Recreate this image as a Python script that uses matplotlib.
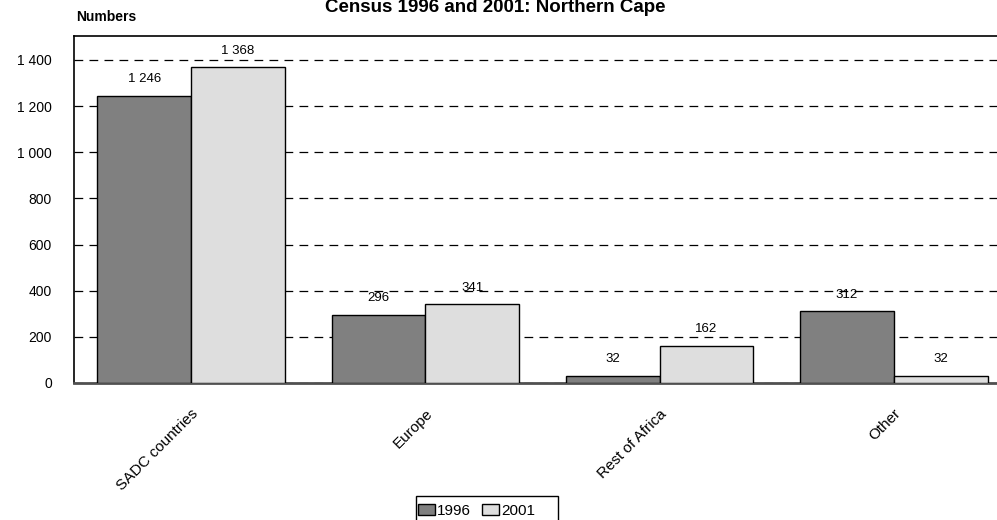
import matplotlib
matplotlib.use("Agg")
import matplotlib.pyplot as plt
from matplotlib.patches import Rectangle
import numpy as np

plt.rcParams['font.family'] = ['Liberation Sans Narrow', 'Liberation Sans', 'DejaVu Sans']

categories = ["SADC countries", "Europe", "Rest of Africa", "Other"]
years = ["1996", "2001"]
values_1996 = [1246, 296, 32, 312]
values_2001 = [1368, 341, 162, 32]
colors = ["#808080", "#dedede"]


def fmt(v):
    return "{:,}".format(v).replace(",", " ")


fig = plt.figure(figsize=(9.97, 5.2), dpi=100)
# axes run past the right edge, as in the original
ax = fig.add_axes([74 / 997, 1 - 383 / 520, (1011 - 74) / 997, (383 - 36) / 520])

x = np.arange(len(categories))
w = 0.4
b1 = ax.bar(x - w / 2, values_1996, w, color=colors[0], edgecolor="black", linewidth=1, label=years[0], zorder=3)
b2 = ax.bar(x + w / 2, values_2001, w, color=colors[1], edgecolor="black", linewidth=1, label=years[1], zorder=3)

for bars, vals in ((b1, values_1996), (b2, values_2001)):
    for r, v in zip(bars, vals):
        ax.text(r.get_x() + r.get_width() / 2, v + 45, fmt(v), ha="center", va="bottom",
                fontsize=9.5, zorder=4)

ax.set_xlim(-0.5, 3.5)
ax.set_ylim(0, 1504)
yt = np.arange(0, 1401, 200)
ax.set_yticks(yt)
ax.set_yticklabels([fmt(v) for v in yt], fontsize=10)
ax.tick_params(axis="y", length=0, pad=16)
ax.set_xticks(x)
ax.set_xticklabels(categories, rotation=45, ha="right", rotation_mode="anchor", fontsize=11)
ax.tick_params(axis="x", length=0, pad=17)

for v in yt:
    ax.axhline(v, color="black", linestyle=(0, (7, 5)), linewidth=0.9, zorder=1)

ax.spines["right"].set_visible(False)
ax.spines["left"].set_linewidth(1.2)
ax.spines["top"].set_linewidth(1.2)
ax.spines["bottom"].set_color("#505050")
ax.spines["bottom"].set_linewidth(2)

fig.text(495 / 997, 1 - 8 / 520, "Census 1996 and 2001: Northern Cape", ha="center", va="center",
         fontsize=13.5, fontweight="bold")
fig.text(76 / 997, 1 - 17 / 520, "Numbers", ha="left", va="center", fontsize=10, fontweight="bold")

# legend box runs off the bottom edge like the original
fig.patches.append(Rectangle((416 / 997, -10 / 520), (558 - 416) / 997, 34 / 520,
                             transform=fig.transFigure, facecolor="white", edgecolor="black",
                             linewidth=1, zorder=0))
leg = fig.legend(handles=[b1, b2], labels=years, loc="lower left", bbox_to_anchor=(418 / 997, 2 / 520),
                 ncol=2, frameon=False, fontsize=11,
                 handlelength=1.1, handleheight=0.7, handletextpad=0.15, columnspacing=0.7,
                 borderpad=0, borderaxespad=0)

fig.savefig("out.png", dpi=100)
